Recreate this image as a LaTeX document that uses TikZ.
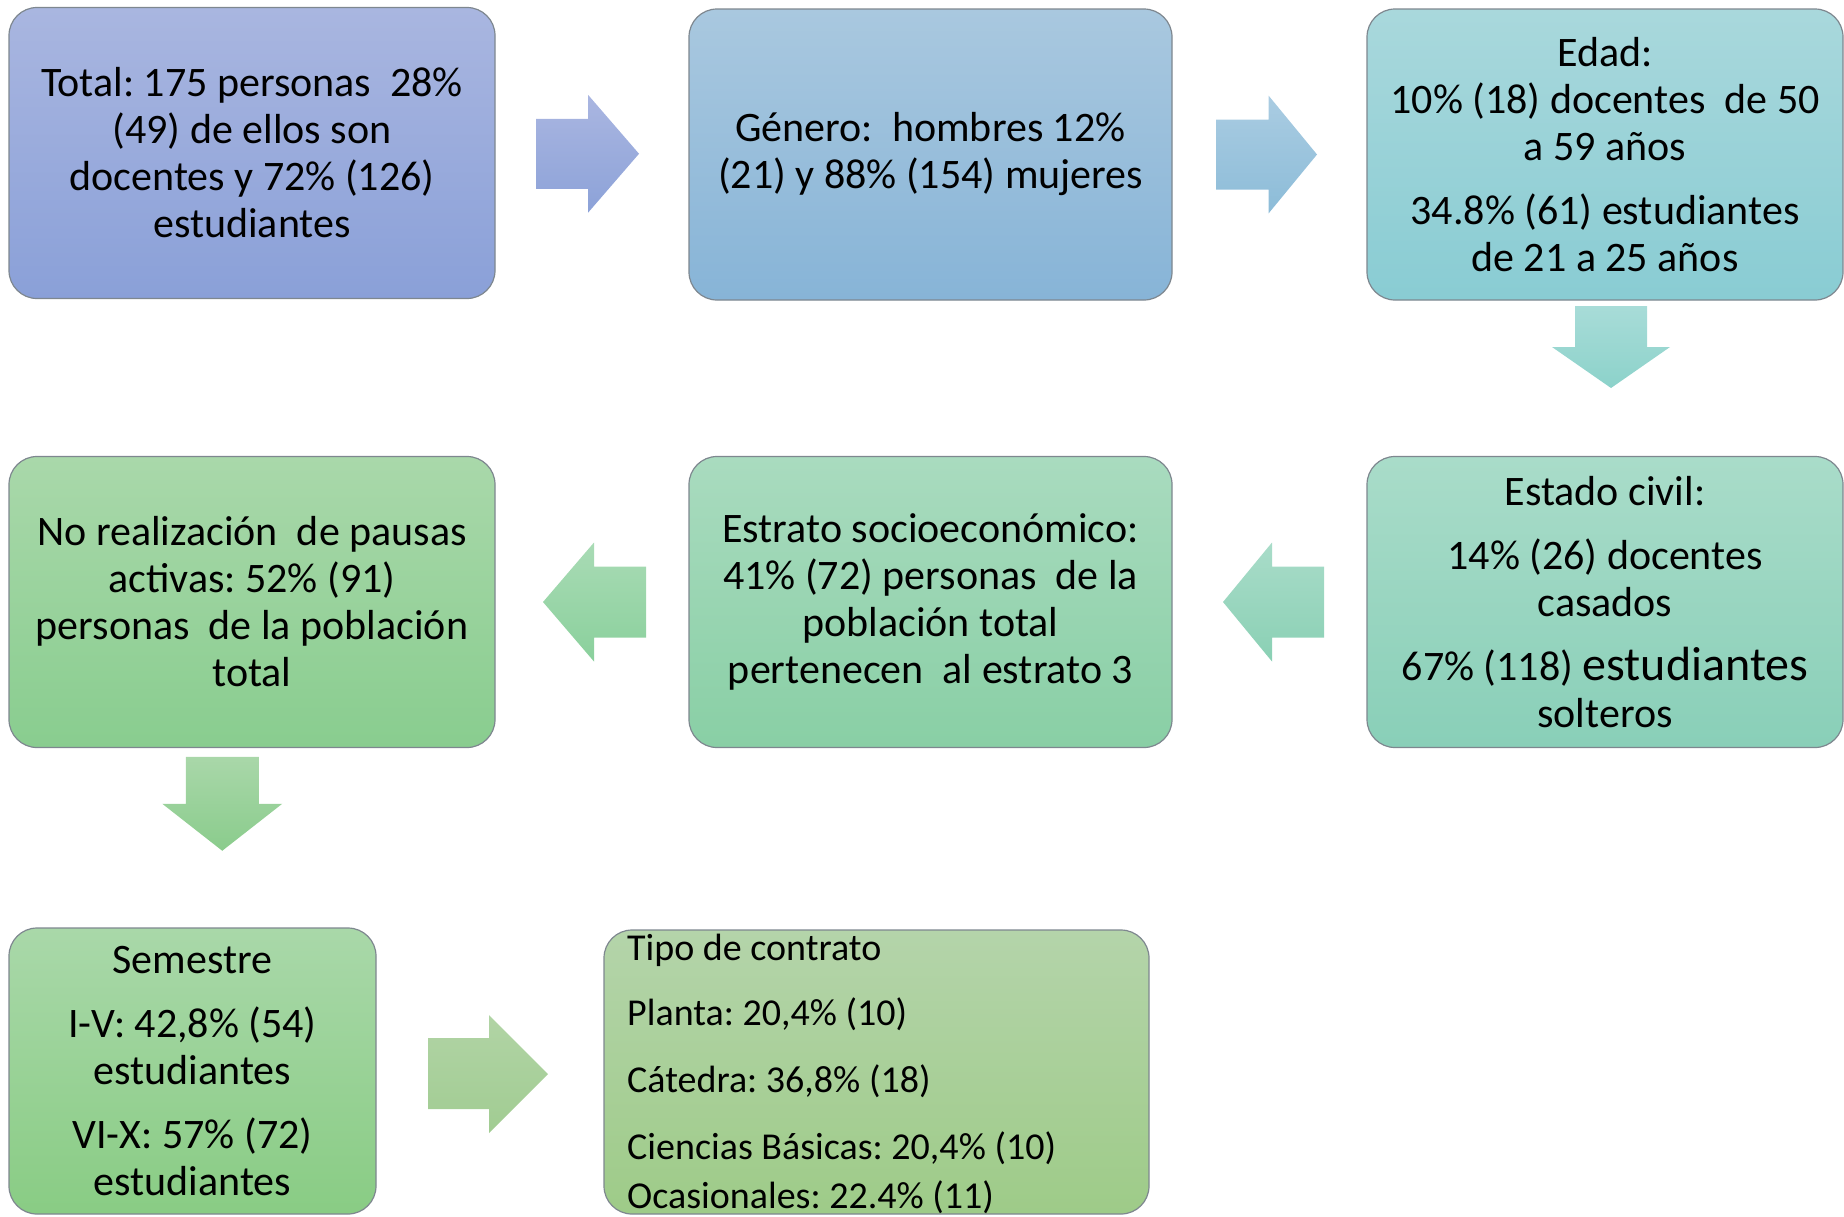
\documentclass[tikz,border=0pt]{standalone}
\usepackage{fontspec}
\setmainfont{Carlito}
\usetikzlibrary{calc}
\frenchspacing
\definecolor{boxline}{HTML}{7E878F}
\definecolor{c1t}{HTML}{A9B6E0}\definecolor{c1b}{HTML}{8AA0D8}
\definecolor{c2t}{HTML}{A9C8DF}\definecolor{c2b}{HTML}{87B4D7}
\definecolor{c3t}{HTML}{A9D8DC}\definecolor{c3b}{HTML}{89CCD3}
\definecolor{c4t}{HTML}{A9DCC9}\definecolor{c4b}{HTML}{89CFB8}
\definecolor{c5t}{HTML}{A9DBBF}\definecolor{c5b}{HTML}{89CFA5}
\definecolor{c6t}{HTML}{A9D8AA}\definecolor{c6b}{HTML}{89CD8F}
\definecolor{c7t}{HTML}{A9D8A9}\definecolor{c7b}{HTML}{89CC84}
\definecolor{c8t}{HTML}{B4D4AA}\definecolor{c8b}{HTML}{9ECB88}
\definecolor{a1t}{HTML}{AAB6E1}\definecolor{a1b}{HTML}{8CA2D8}
\definecolor{a2t}{HTML}{AACCE2}\definecolor{a2b}{HTML}{8CBCD8}
\definecolor{d1t}{HTML}{A8DCD8}\definecolor{d1b}{HTML}{8CD2CA}
\definecolor{lAt}{HTML}{A9DCC9}\definecolor{lAb}{HTML}{8AD0B4}
\definecolor{lBt}{HTML}{A9DBB5}\definecolor{lBb}{HTML}{8AD09C}
\definecolor{d2t}{HTML}{A9D7A9}\definecolor{d2b}{HTML}{8ACC8C}
\definecolor{rCt}{HTML}{B1D4A5}\definecolor{rCb}{HTML}{A1CC92}
\tikzset{
  box/.style={draw=boxline, line width=1.2pt, rounded corners=28pt, outer sep=0pt,
    inner sep=0pt, align=center, font=\fontsize{42}{47}\selectfont\frenchspacing,
    minimum width=486pt, minimum height=291pt},
  blockarrow/.style={draw=none}
}
\begin{document}
\begin{tikzpicture}[x=1pt,y=-1pt]
\useasboundingbox (0,0) rectangle (1844,1216);
% row 1
\node[box, top color=c1t, bottom color=c1b] (b1) at (252,153)
  {Total: 175 personas\ \ 28\%\\(49) de ellos son\\docentes y 72\% (126)\\estudiantes};
\node[box, minimum width=483pt, top color=c2t, bottom color=c2b] (b2) at (930.5,154.5)
  {Género:\ \ hombres 12\%\\(21) y 88\% (154) mujeres};
\node[box, minimum width=476pt, top color=c3t, bottom color=c3b] (b3) at (1605,154.5)
  {Edad:\\10\% (18) docentes\ \ de 50\\a 59 años\\[17pt]34.8\% (61) estudiantes\\de 21 a 25 años};
% row 2
\node[box, minimum width=476pt, top color=c4t, bottom color=c4b] (b4) at (1605,602)
  {Estado civil:\\[17pt]14\% (26) docentes\\casados\\[17pt]67\% (118) {\fontsize{48}{47}\selectfont estudiantes}\\solteros};
\node[box, minimum width=483pt, top color=c5t, bottom color=c5b] (b5) at (930.5,602)
  {Estrato socioeconómico:\\41\% (72) personas\ \ de la\\población total\\pertenecen\ \ al estrato 3};
\node[box, top color=c6t, bottom color=c6b] (b6) at (252,602)
  {No realización\ \ de pausas\\activas: 52\% (91)\\personas\ \ de la población\\total};
% row 3
\node[box, minimum width=367pt, minimum height=286pt, top color=c7t, bottom color=c7b] (b7) at (192.5,1071)
  {Semestre\\[17pt]I-V: 42,8\% (54)\\estudiantes\\[17pt]VI-X: 57\% (72)\\estudiantes};
\node[box, minimum width=545pt, minimum height=284pt, top color=c8t, bottom color=c8b] (b8) at (876.5,1072) {};
\node[anchor=north west, inner sep=0pt, align=left, font=\fontsize{38}{46}\selectfont\frenchspacing] (t8)
  at ([shift={(23,4)}]b8.north west)
  {Tipo de contrato\\[19pt]Planta: 20,4\% (10)\\[21pt]Cátedra: 36,8\% (18)\\[21pt]Ciencias Básicas: 20,4\% (10)\\[3pt]Ocasionales: 22.4\% (11)};
% arrow anchors
\coordinate (m1) at ($(b1.east)!0.5!(b2.west)$);
\coordinate (m2) at ($(b2.east)!0.5!(b3.west)$);
\coordinate (m3) at ($(b5.east)!0.5!(b4.west)$);
\coordinate (m4) at ($(b6.east)!0.5!(b5.west)$);
\coordinate (m5) at ($(b6.south)!0.5!(b7.north)$);
\coordinate (m6) at ($(b7.east)!0.5!(b8.west)$);
% arrows
\begin{scope}[shift={(m1)}]
\shade[blockarrow, top color=a1t, bottom color=a1b] (-56,-35) -- (-4,-35) -- (-4,-59) -- (47,0) -- (-4,59) -- (-4,35) -- (-56,35) -- cycle;
\end{scope}
\begin{scope}[shift={(m2)}]
\shade[blockarrow, top color=a2t, bottom color=a2b] (-53.5,-35) -- (-1,-35) -- (-1,-59) -- (47.5,0) -- (-1,59) -- (-1,35) -- (-53.5,35) -- cycle;
\end{scope}
\begin{scope}[shift={(b3.south)}]
\shade[blockarrow, top color=d1t, bottom color=d1b] (-30,6) -- (42,6) -- (42,47) -- (65,47) -- (6,88) -- (-53,47) -- (-30,47) -- cycle;
\end{scope}
\begin{scope}[shift={(m3)}]
\shade[blockarrow, top color=lAt, bottom color=lAb] (54.5,-35.5) -- (2.5,-35.5) -- (2.5,-59.5) -- (-46.5,0) -- (2.5,59.5) -- (2.5,35.5) -- (54.5,35.5) -- cycle;
\end{scope}
\begin{scope}[shift={(m4)}]
\shade[blockarrow, top color=lBt, bottom color=lBb] (54,-35.5) -- (2,-35.5) -- (2,-59.5) -- (-49,0) -- (2,59.5) -- (2,35.5) -- (54,35.5) -- cycle;
\end{scope}
\begin{scope}[shift={(m5)}]
\shade[blockarrow, top color=d2t, bottom color=d2b] (-36.5,-81) -- (36.5,-81) -- (36.5,-34) -- (60,-34) -- (0,13) -- (-60,-34) -- (-36.5,-34) -- cycle;
\end{scope}
\begin{scope}[shift={(m6)}]
\shade[blockarrow, top color=rCt, bottom color=rCb] (-62,-33.5) -- (-1,-33.5) -- (-1,-56.5) -- (58,2.5) -- (-1,61.5) -- (-1,37.5) -- (-62,37.5) -- cycle;
\end{scope}
\end{tikzpicture}
\end{document}
